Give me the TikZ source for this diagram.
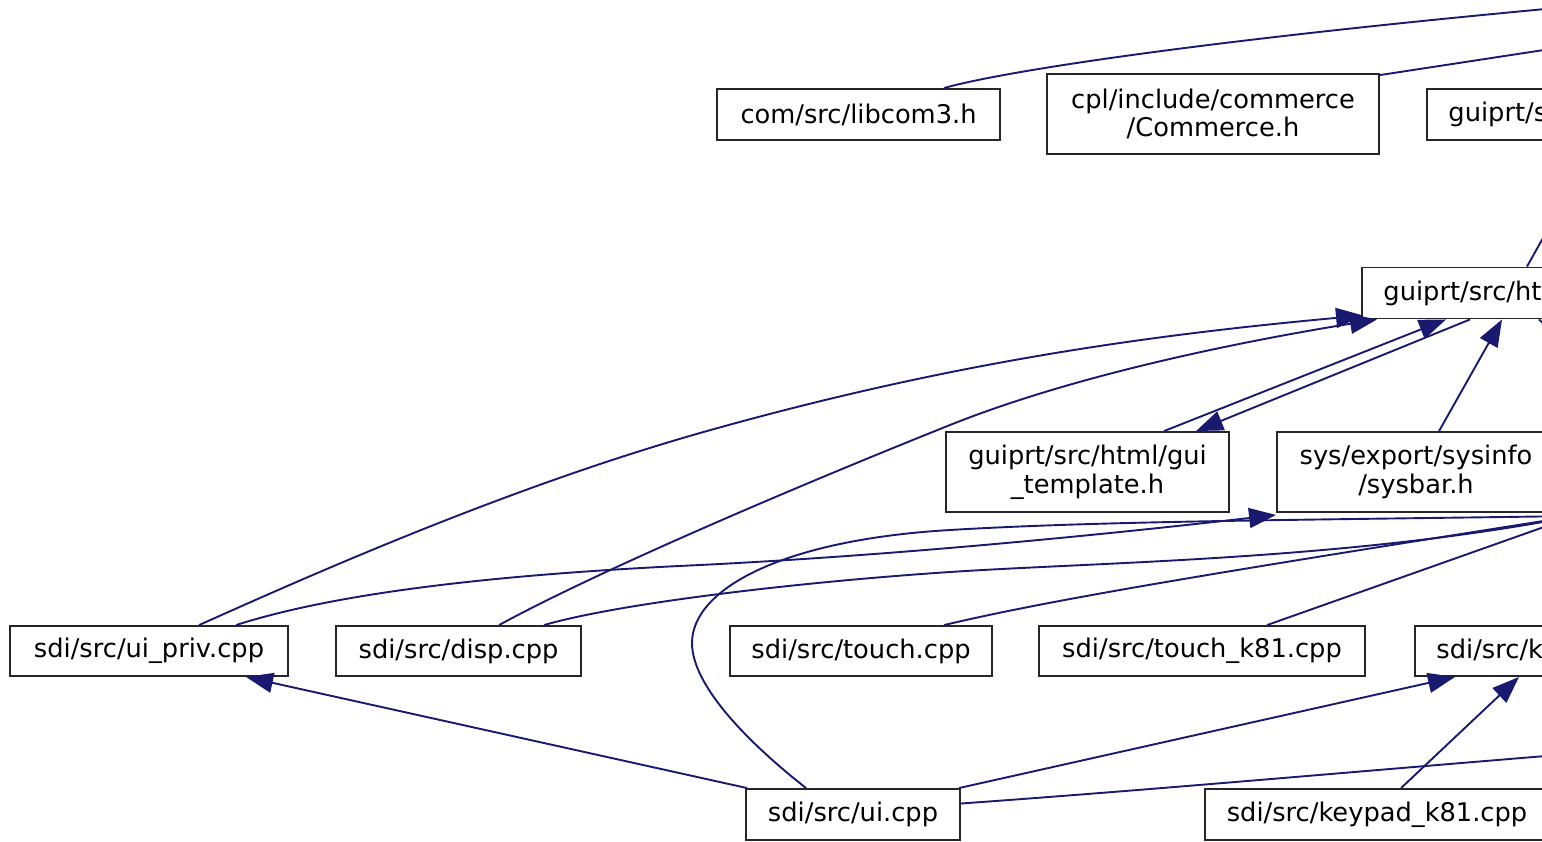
\documentclass[tikz,border=0pt]{standalone}
\usepackage{fontspec}
\setmainfont{DejaVu Sans}
\usetikzlibrary{arrows.meta,calc}
\definecolor{edgeblue}{HTML}{191970}
\tikzset{
  box/.style={draw=black!85, line width=1.9pt, fill=white, inner sep=0pt,
    font=\fontsize{25.7}{28.6}\selectfont, align=center},
  cutbox/.style={box, anchor=west, text width=260pt, align=left,
    inner xsep=21.5pt, minimum height=51pt},
  edge/.style={draw=edgeblue, line width=1.9pt},
  arr/.style={edge, -{Triangle[length=27pt,width=20pt]}}
}
\begin{document}
\begin{tikzpicture}[x=1pt,y=-1pt]
\useasboundingbox (0,0) rectangle (1542,841);
\clip (0,0) rectangle (1542,841);
% nodes
\node[box, minimum width=283pt, minimum height=51pt] (libcom) at (858.5,114.5) {com/src/libcom3.h};
\node[box, minimum width=332pt, minimum height=80pt] (commerce) at (1213,114) {cpl/include/commerce\\/Commerce.h};
\node[cutbox] (guiprts) at (1426,114.5) {guiprt/src};
\node[cutbox] (htm) at (1361,293) {guiprt/src/html};
\node[box, minimum width=283pt, minimum height=80pt] (tmpl) at (1087.5,472) {guiprt/src/html/gui\\\_template.h};
\node[box, minimum width=278pt, minimum height=80pt] (sysbar) at (1416,472) {sys/export/sysinfo\\/sysbar.h};
\node[box, minimum width=278pt, minimum height=50pt] (uipriv) at (149,651) {sdi/src/ui\_priv.cpp};
\node[box, minimum width=245pt, minimum height=50pt] (disp) at (458.5,651) {sdi/src/disp.cpp};
\node[box, minimum width=262pt, minimum height=50pt] (touch) at (861,651) {sdi/src/touch.cpp};
\node[box, minimum width=326pt, minimum height=50pt] (touchk) at (1202,651) {sdi/src/touch\_k81.cpp};
\node[cutbox, minimum height=50pt] (keypad) at (1414,651) {sdi/src/keypad.cpp};
\node[box, minimum width=214pt, minimum height=51pt] (ui) at (853,814.5) {sdi/src/ui.cpp};
\node[box, minimum width=344pt, minimum height=51pt] (keypadk) at (1377,814.5) {sdi/src/keypad\_k81.cpp};
% off-canvas ends
\coordinate (offA) at (1600,4);
\coordinate (offB) at (1570,46);
\coordinate (offC) at (1548,229);
\coordinate (offD) at (1550,330);
\coordinate (offE) at (1575,516);
\coordinate (offF) at (1570,754);
% edges
\draw[edge] ($(libcom.north west)+(228,0)$) .. controls (1000,72) and (1200,40) .. (offA);
\draw[edge] ($(commerce.north east)+(0,2)$) -- (offB);
\draw[edge] ($(htm.north west)+(166,0)$) -- (offC);
\draw[edge] ($(htm.south west)+(178,0)$) -- (offD);
\draw[arr] ($(uipriv.north west)+(190,0)$) .. controls (300,580) and (500,490) .. (700,433)
  .. controls (950,362) and (1150,335) .. ($(htm.south west)+(2,-4)$);
\draw[arr] ($(disp.north west)+(164,0)$) .. controls (600,570) and (800,485) .. (950,425)
  .. controls (1080,373) and (1250,340) .. ($(htm.south west)+(16,0)$);
\draw[arr] ($(tmpl.north west)+(219,0)$) -- ($(htm.south west)+(85,0)$);
\draw[arr] ($(htm.south west)+(109,0)$) -- ($(tmpl.north west)+(251,0)$);
\draw[arr] ($(sysbar.north west)+(163,0)$) -- ($(htm.south west)+(141,0)$);
\draw[arr] ($(uipriv.north west)+(227,0)$) .. controls (330,595) and (480,575) .. (700,565)
  .. controls (900,555) and (1100,535) .. ($(sysbar.south west)+(0,2)$);
\draw[edge] ($(disp.north west)+(209,0)$) .. controls (620,603) and (800,582) .. (950,572)
  .. controls (1100,562) and (1350,560) .. (offE);
\draw[edge] ($(touch.north west)+(215,0)$) .. controls (1050,600) and (1200,575) .. (offE);
\draw[edge] ($(touchk.north west)+(229,0)$) -- (offE);
\draw[edge] ($(ui.north west)+(61,0)$) .. controls (760,752) and (692,690) .. (692,643)
  .. controls (692,590) and (780,540) .. (950,530)
  .. controls (1100,521) and (1300,520) .. (offE);
\draw[arr] ($(ui.north west)+(2,0)$) -- ($(uipriv.south west)+(237,0)$);
\draw[arr] ($(ui.north east)+(-2,0)$) -- ($(keypad.south west)+(41,0)$);
\draw[arr] ($(keypadk.north west)+(197,0)$) -- ($(keypad.south west)+(105,0)$);
\draw[edge] ($(ui.east)+(0,-11)$) .. controls (1150,790) and (1350,772) .. (offF);
\end{tikzpicture}
\end{document}
